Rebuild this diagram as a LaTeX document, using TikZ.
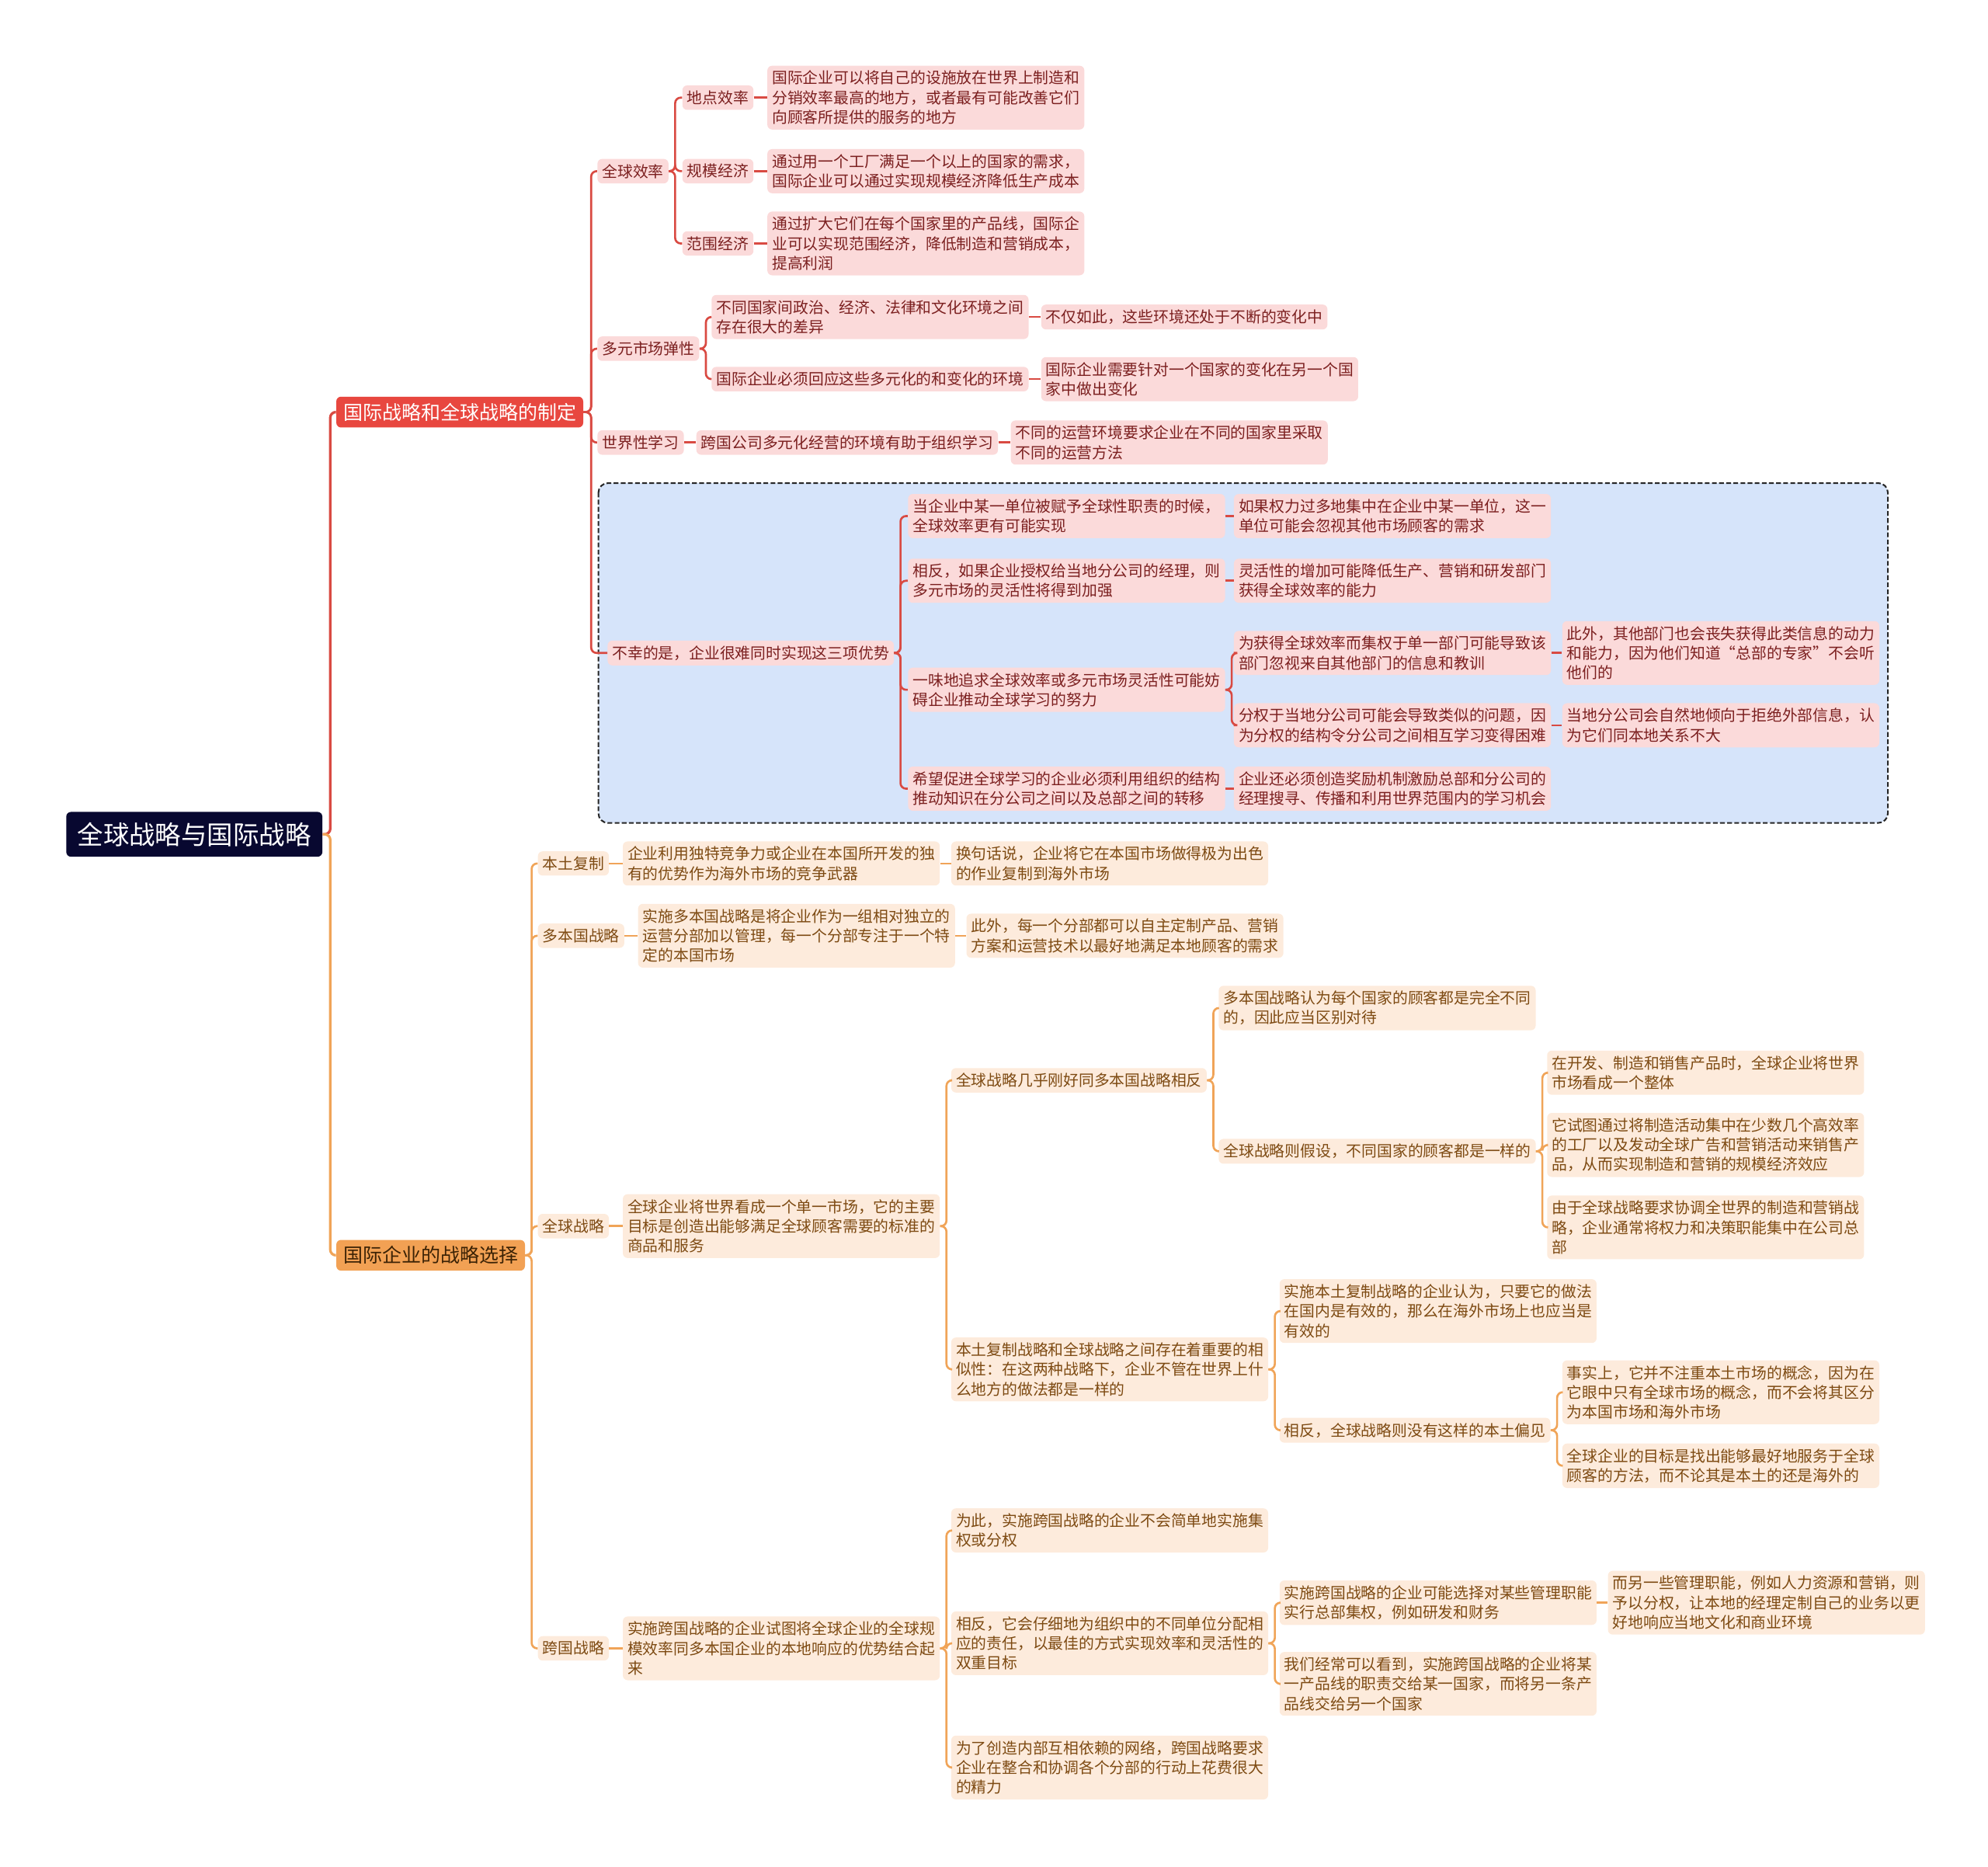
\documentclass[tikz,border=0pt]{standalone}
\usepackage{fontspec}
\setmainfont{Noto Sans CJK SC}
\usepackage{xcolor}
\definecolor{navy}{HTML}{080830}
\definecolor{redmain}{HTML}{E8473F}
\definecolor{redline}{HTML}{D94A42}
\definecolor{redsoft}{HTML}{FBDADA}
\definecolor{redtext}{HTML}{7B1F1F}
\definecolor{bluesoft}{HTML}{D6E4FA}
\definecolor{orgmain}{HTML}{F2A154}
\definecolor{orgline}{HTML}{F0A458}
\definecolor{orgsoft}{HTML}{FDEBDC}
\definecolor{orgtext}{HTML}{7D4A12}
\definecolor{orgdeep}{HTML}{3B2205}

\begin{document}
\begin{tikzpicture}[x=0.8pt, y=-0.8pt,
    every node/.style={align=left, anchor=west, rounded corners=3pt, inner xsep=3pt, inner ysep=3.2pt,
        font=\fontsize{9.7}{12.4}\selectfont},
    rootbox/.style={fill=navy, text=white, inner xsep=7pt, inner ysep=6.5pt, font=\fontsize{16.4}{18}\selectfont},
    redbranch/.style={fill=redmain, text=white, inner xsep=4.4pt, inner ysep=4pt, font=\fontsize{12.25}{14}\selectfont},
    orgbranch/.style={fill=orgmain, text=orgdeep, inner xsep=4.4pt, inner ysep=4pt, font=\fontsize{12.25}{14}\selectfont},
    redbox/.style={fill=redsoft, text=redtext},
    orgbox/.style={fill=orgsoft, text=orgtext},
    redlink/.style={draw=redline, line width=1.3pt, rounded corners=3.5pt},
    orglink/.style={draw=orgline, line width=1.3pt, rounded corners=3.5pt}]
    \useasboundingbox (0,0) rectangle (1568,1472);

    % dashed frame round the last red topic
    \draw[fill=bluesoft, draw=black!85, line width=1pt, dash pattern=on 3pt off 1.5pt, rounded corners=6pt]
        (472,381) rectangle (1489,649);

    \node[rootbox] (root) at (52,658) {全球战略与国际战略};
    \node[redbranch] (plan) at (265,325) {国际战略和全球战略的制定};
    \node[orgbranch] (choice) at (265,990) {国际企业的战略选择};

    % red branch
    \node[redbox] (eff) at (471,135) {全球效率};
    \node[redbox] (loc) at (538,77) {地点效率};
    \node[redbox] (scale) at (538,135) {规模经济};
    \node[redbox] (scope) at (538,192) {范围经济};
    \node[redbox] (locx) at (605,77) {国际企业可以将自己的设施放在世界上制造和\\分销效率最高的地方，或者最有可能改善它们\\向顾客所提供的服务的地方};
    \node[redbox] (scalex) at (605,135) {通过用一个工厂满足一个以上的国家的需求，\\国际企业可以通过实现规模经济降低生产成本};
    \node[redbox] (scopex) at (605,192) {通过扩大它们在每个国家里的产品线，国际企\\业可以实现范围经济，降低制造和营销成本，\\提高利润};

    \node[redbox] (flex) at (471,275) {多元市场弹性};
    \node[redbox] (flexa) at (561,250) {不同国家间政治、经济、法律和文化环境之间\\存在很大的差异};
    \node[redbox] (flexax) at (821,250) {不仅如此，这些环境还处于不断的变化中};
    \node[redbox] (flexb) at (561,299) {国际企业必须回应这些多元化的和变化的环境};
    \node[redbox] (flexbx) at (821,299) {国际企业需要针对一个国家的变化在另一个国\\家中做出变化};

    \node[redbox] (learn) at (471,349) {世界性学习};
    \node[redbox] (learna) at (549,349) {跨国公司多元化经营的环境有助于组织学习};
    \node[redbox] (learnx) at (797,349) {不同的运营环境要求企业在不同的国家里采取\\不同的运营方法};

    \node[redbox] (hard) at (479,515) {不幸的是，企业很难同时实现这三项优势};
    \node[redbox] (harda) at (716,407) {当企业中某一单位被赋予全球性职责的时候，\\全球效率更有可能实现};
    \node[redbox] (hardax) at (973,407) {如果权力过多地集中在企业中某一单位，这一\\单位可能会忽视其他市场顾客的需求};
    \node[redbox] (hardb) at (716,458) {相反，如果企业授权给当地分公司的经理，则\\多元市场的灵活性将得到加强};
    \node[redbox] (hardbx) at (973,458) {灵活性的增加可能降低生产、营销和研发部门\\获得全球效率的能力};
    \node[redbox] (hardc) at (716,544) {一味地追求全球效率或多元市场灵活性可能妨\\碍企业推动全球学习的努力};
    \node[redbox] (hardc1) at (973,515) {为获得全球效率而集权于单一部门可能导致该\\部门忽视来自其他部门的信息和教训};
    \node[redbox] (hardc1x) at (1232,515) {此外，其他部门也会丧失获得此类信息的动力\\和能力，因为他们知道“总部的专家”不会听\\他们的};
    \node[redbox] (hardc2) at (973,572) {分权于当地分公司可能会导致类似的问题，因\\为分权的结构令分公司之间相互学习变得困难};
    \node[redbox] (hardc2x) at (1232,572) {当地分公司会自然地倾向于拒绝外部信息，认\\为它们同本地关系不大};
    \node[redbox] (hardd) at (716,622) {希望促进全球学习的企业必须利用组织的结构\\推动知识在分公司之间以及总部之间的转移};
    \node[redbox] (harddx) at (973,622) {企业还必须创造奖励机制激励总部和分公司的\\经理搜寻、传播和利用世界范围内的学习机会};

    % orange branch
    \node[orgbox] (home) at (424,681) {本土复制};
    \node[orgbox] (homea) at (491,681) {企业利用独特竞争力或企业在本国所开发的独\\有的优势作为海外市场的竞争武器};
    \node[orgbox] (homex) at (750,681) {换句话说，企业将它在本国市场做得极为出色\\的作业复制到海外市场};
    \node[orgbox] (multi) at (424,738) {多本国战略};
    \node[orgbox] (multia) at (503,738) {实施多本国战略是将企业作为一组相对独立的\\运营分部加以管理，每一个分部专注于一个特\\定的本国市场};
    \node[orgbox] (multix) at (762,738) {此外，每一个分部都可以自主定制产品、营销\\方案和运营技术以最好地满足本地顾客的需求};

    \node[orgbox] (glob) at (424,967) {全球战略};
    \node[orgbox] (globa) at (491,967) {全球企业将世界看成一个单一市场，它的主要\\目标是创造出能够满足全球顾客需要的标准的\\商品和服务};
    \node[orgbox] (globb) at (750,852) {全球战略几乎刚好同多本国战略相反};
    \node[orgbox] (globb1) at (961,795) {多本国战略认为每个国家的顾客都是完全不同\\的，因此应当区别对待};
    \node[orgbox] (globb2) at (961,908) {全球战略则假设，不同国家的顾客都是一样的};
    \node[orgbox] (globb2a) at (1220,846) {在开发、制造和销售产品时，全球企业将世界\\市场看成一个整体};
    \node[orgbox] (globb2b) at (1220,903) {它试图通过将制造活动集中在少数几个高效率\\的工厂以及发动全球广告和营销活动来销售产\\品，从而实现制造和营销的规模经济效应};
    \node[orgbox] (globb2c) at (1220,968) {由于全球战略要求协调全世界的制造和营销战\\略，企业通常将权力和决策职能集中在公司总\\部};
    \node[orgbox] (globc) at (750,1080) {本土复制战略和全球战略之间存在着重要的相\\似性：在这两种战略下，企业不管在世界上什\\么地方的做法都是一样的};
    \node[orgbox] (globc1) at (1009,1034) {实施本土复制战略的企业认为，只要它的做法\\在国内是有效的，那么在海外市场上也应当是\\有效的};
    \node[orgbox] (globc2) at (1009,1128) {相反，全球战略则没有这样的本土偏见};
    \node[orgbox] (globc2a) at (1232,1098) {事实上，它并不注重本土市场的概念，因为在\\它眼中只有全球市场的概念，而不会将其区分\\为本国市场和海外市场};
    \node[orgbox] (globc2b) at (1232,1156) {全球企业的目标是找出能够最好地服务于全球\\顾客的方法，而不论其是本土的还是海外的};

    \node[orgbox] (trans) at (424,1300) {跨国战略};
    \node[orgbox] (transa) at (491,1300) {实施跨国战略的企业试图将全球企业的全球规\\模效率同多本国企业的本地响应的优势结合起\\来};
    \node[orgbox] (transb) at (750,1207) {为此，实施跨国战略的企业不会简单地实施集\\权或分权};
    \node[orgbox] (transc) at (750,1296) {相反，它会仔细地为组织中的不同单位分配相\\应的责任，以最佳的方式实现效率和灵活性的\\双重目标};
    \node[orgbox] (transc1) at (1009,1264) {实施跨国战略的企业可能选择对某些管理职能\\实行总部集权，例如研发和财务};
    \node[orgbox] (transc1x) at (1268,1264) {而另一些管理职能，例如人力资源和营销，则\\予以分权，让本地的经理定制自己的业务以更\\好地响应当地文化和商业环境};
    \node[orgbox] (transc2) at (1009,1328) {我们经常可以看到，实施跨国战略的企业将某\\一产品线的职责交给某一国家，而将另一条产\\品线交给另一个国家};
    \node[orgbox] (transd) at (750,1394) {为了创造内部互相依赖的网络，跨国战略要求\\企业在整合和协调各个分部的行动上花费很大\\的精力};

    % links
    \draw[redlink, line width=1.6pt] (root.east) -- ++(6,0) |- (plan.west);
    \draw[orglink, line width=1.6pt] (root.east) -- ++(6,0) |- (choice.west);

    \draw[redlink] (plan.east) -- ++(6,0) |- (eff.west);
    \draw[redlink] (plan.east) -- ++(6,0) |- (flex.west);
    \draw[redlink] (plan.east) -- ++(6,0) |- (learn.west);
    \draw[redlink] (plan.east) -- ++(6,0) |- (hard.west);
    \draw[redlink] (eff.east) -- ++(5,0) |- (loc.west);
    \draw[redlink] (eff.east) -- ++(5,0) |- (scale.west);
    \draw[redlink] (eff.east) -- ++(5,0) |- (scope.west);
    \draw[redlink] (loc.east) -- (locx.west);
    \draw[redlink] (scale.east) -- (scalex.west);
    \draw[redlink] (scope.east) -- (scopex.west);
    \draw[redlink] (flex.east) -- ++(5,0) |- (flexa.west);
    \draw[redlink] (flex.east) -- ++(5,0) |- (flexb.west);
    \draw[redlink] (flexa.east) -- (flexax.west);
    \draw[redlink] (flexb.east) -- (flexbx.west);
    \draw[redlink] (learn.east) -- (learna.west);
    \draw[redlink] (learna.east) -- (learnx.west);
    \draw[redlink] (hard.east) -- ++(5,0) |- (harda.west);
    \draw[redlink] (hard.east) -- ++(5,0) |- (hardb.west);
    \draw[redlink] (hard.east) -- ++(5,0) |- (hardc.west);
    \draw[redlink] (hard.east) -- ++(5,0) |- (hardd.west);
    \draw[redlink] (harda.east) -- (hardax.west);
    \draw[redlink] (hardb.east) -- (hardbx.west);
    \draw[redlink] (hardc.east) -- ++(5,0) |- (hardc1.west);
    \draw[redlink] (hardc.east) -- ++(5,0) |- (hardc2.west);
    \draw[redlink] (hardc1.east) -- (hardc1x.west);
    \draw[redlink] (hardc2.east) -- (hardc2x.west);
    \draw[redlink] (hardd.east) -- (harddx.west);

    \draw[orglink] (choice.east) -- ++(5,0) |- (home.west);
    \draw[orglink] (choice.east) -- ++(5,0) |- (multi.west);
    \draw[orglink] (choice.east) -- ++(5,0) |- (glob.west);
    \draw[orglink] (choice.east) -- ++(5,0) |- (trans.west);
    \draw[orglink] (home.east) -- (homea.west);
    \draw[orglink] (homea.east) -- (homex.west);
    \draw[orglink] (multi.east) -- (multia.west);
    \draw[orglink] (multia.east) -- (multix.west);
    \draw[orglink] (glob.east) -- (globa.west);
    \draw[orglink] (globa.east) -- ++(5,0) |- (globb.west);
    \draw[orglink] (globa.east) -- ++(5,0) |- (globc.west);
    \draw[orglink] (globb.east) -- ++(5,0) |- (globb1.west);
    \draw[orglink] (globb.east) -- ++(5,0) |- (globb2.west);
    \draw[orglink] (globb2.east) -- ++(5,0) |- (globb2a.west);
    \draw[orglink] (globb2.east) -- ++(5,0) |- (globb2b.west);
    \draw[orglink] (globb2.east) -- ++(5,0) |- (globb2c.west);
    \draw[orglink] (globc.east) -- ++(5,0) |- (globc1.west);
    \draw[orglink] (globc.east) -- ++(5,0) |- (globc2.west);
    \draw[orglink] (globc2.east) -- ++(5,0) |- (globc2a.west);
    \draw[orglink] (globc2.east) -- ++(5,0) |- (globc2b.west);
    \draw[orglink] (trans.east) -- (transa.west);
    \draw[orglink] (transa.east) -- ++(5,0) |- (transb.west);
    \draw[orglink] (transa.east) -- ++(5,0) |- (transc.west);
    \draw[orglink] (transa.east) -- ++(5,0) |- (transd.west);
    \draw[orglink] (transc.east) -- ++(5,0) |- (transc1.west);
    \draw[orglink] (transc.east) -- ++(5,0) |- (transc2.west);
    \draw[orglink] (transc1.east) -- (transc1x.west);
\end{tikzpicture}
\end{document}
